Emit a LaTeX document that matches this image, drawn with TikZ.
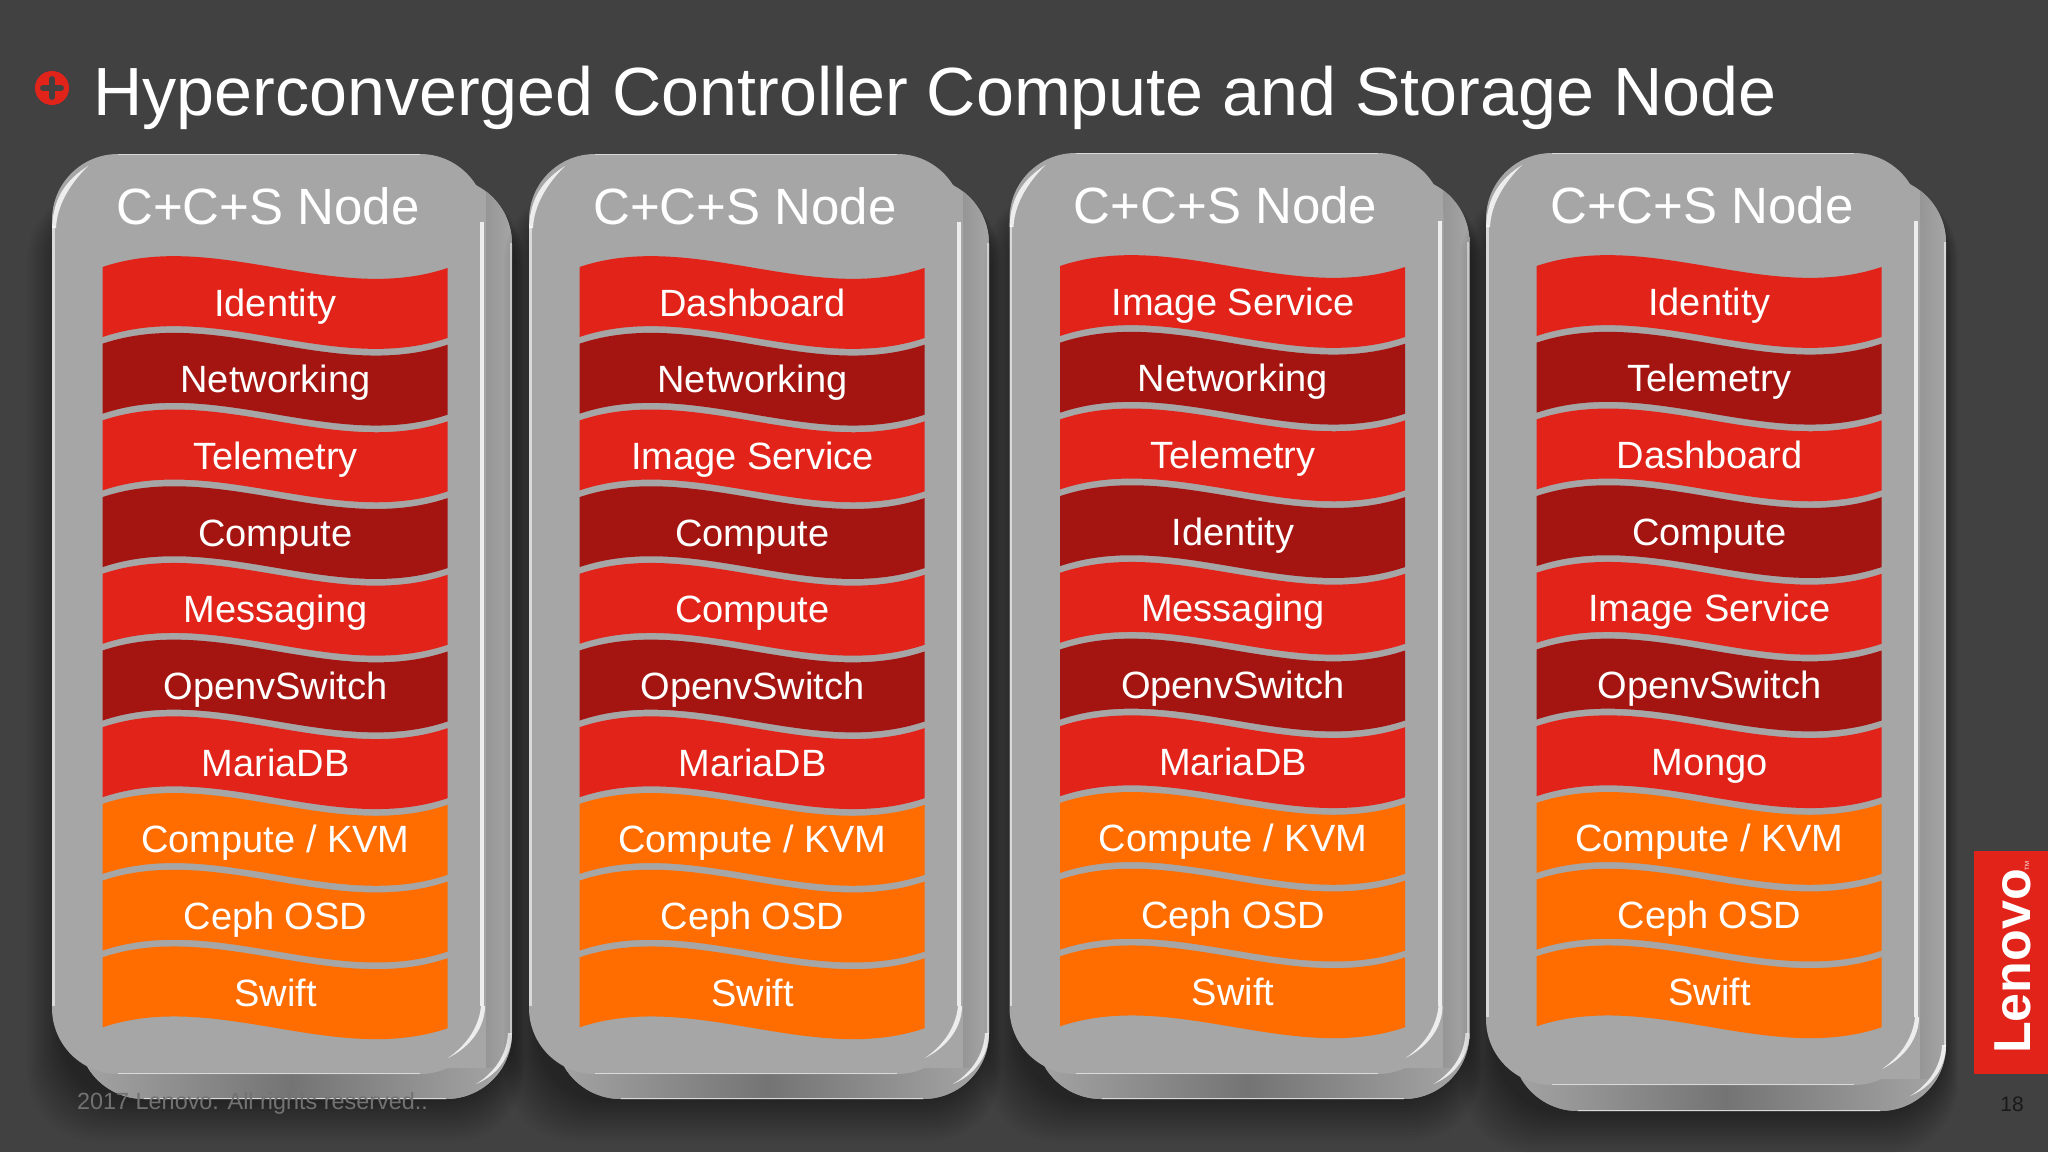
\documentclass[tikz,border=0pt]{standalone}
\usepackage{fontspec}
\setmainfont{Liberation Sans}
\usetikzlibrary{calc}
\definecolor{slidebg}{HTML}{414142}
\definecolor{cardgray}{HTML}{A6A6A6}
\definecolor{stripdark}{HTML}{747474}
\definecolor{stripmid}{HTML}{969696}
\definecolor{footergray}{HTML}{727272}
\definecolor{lenovored}{HTML}{E2231A}
\definecolor{darkred}{HTML}{A41511}
\definecolor{stackorange}{HTML}{FF6D00}
\tikzset{
  cardface/.style={fill=cardgray, rounded corners=66pt},
  cardback/.style={fill=cardgray, rounded corners=66pt},
  glint/.style={fill=white, opacity=.8},
  sideglint/.style={white!70!gray, line width=2.5pt},
  layertext/.style={white, anchor=base, inner sep=0pt, font=\fontsize{38}{38}\selectfont},
  cardtitle/.style={white, anchor=base, inner sep=0pt, font=\fontsize{51}{51}\selectfont},
  redband/.style={fill=lenovored},
  deepband/.style={fill=darkred},
  orangeband/.style={fill=stackorange},
}
% one stack: name, x shift, y shift, front bottom, back bottom, the ten layers
\newcommand{\nodecard}[6]{%
  \begin{scope}[xshift=#2pt, yshift=#3pt]
    % soft shadow, mostly left and below
    \foreach \k in {1,...,14}
      \fill[black, opacity=.026, rounded corners=70pt] (62-2.5*\k,190) rectangle (510+\k,#5+3*\k);
    \fill[cardback] (78,178) rectangle (512,#5);
    \begin{scope}
      \clip[rounded corners=66pt] (78,178) rectangle (512,#5);
      \shade[left color=stripmid, right color=cardgray] (486,170) rectangle (512,#4-6);
      \shade[left color=cardgray, right color=cardgray, middle color=stripdark] (70,#4-6) rectangle (512,#5);
    \end{scope}
    \draw[sideglint, line width=1.5pt] (144,#5-.5) -- (446,#5-.5);
    \draw[sideglint, line width=2pt] (510.5,243) -- (510.5,#5-64);
    \fill[glint] (512,#5-66) .. controls (512,#5-44) and (498,#5-24) .. (476,#5-15)
      .. controls (494,#5-26) and (507,#5-44) .. (508,#5-66) -- cycle;
    \fill[cardface] (52,154) rectangle (486,#4);
    \draw[sideglint, line width=1.5pt] (118,154.5) -- (420,154.5);
    \draw[sideglint, line width=1.5pt] (118,#4-.5) -- (420,#4-.5);
    \draw[sideglint] (53.5,226) -- (53.5,#4-68);
    \fill[glint] (52,228) .. controls (53,198) and (66,180) .. (88,166)
      .. controls (70,184) and (57,205) .. (56,228) -- cycle;
    \fill[glint] (480,222) rectangle (484,#4-68);
    \fill[glint] (485,#4-68) .. controls (485,#4-48) and (472,#4-28) .. (448,#4-16)
      .. controls (468,#4-30) and (479,#4-48) .. (481,#4-68) -- cycle;
    \node[cardtitle] (title#1) at (268,224) {C+C+S Node};
    \foreach \layername [count=\i from 0, evaluate=\i as \ty using 267+76.7*\i] in {#6} {
      \pgfmathtruncatemacro{\kind}{\i>6 ? 2 : int(mod(\i,2))}
      \ifnum\kind=2 \def\bandstyle{orangeband}\else
        \ifnum\kind=1 \def\bandstyle{deepband}\else \def\bandstyle{redband}\fi\fi
      \fill[\bandstyle] (102.5,\ty) .. controls +(113,-38) and +(-113,38) .. (447.5,\ty+1)
        -- (447.5,\ty+71) .. controls +(-113,38) and +(113,-38) .. (102.5,\ty+70) -- cycle;
      \node[layertext] (layer#1\i) at (275.5,\ty+49) {\layername};
    }
  \end{scope}
}
\begin{document}
\begin{tikzpicture}[x=1pt, y=-1pt]
\useasboundingbox (0,0) rectangle (2048,1152);
\fill[slidebg] (0,0) rectangle (2048,1152);

\node[circle, fill=lenovored, minimum size=34pt, inner sep=0pt] (bullet) at (52,88) {};
\draw[slidebg, line width=6pt, line cap=round] ($(bullet)+(-9,0)$) -- ($(bullet)+(9,0)$);
\draw[slidebg, line width=6pt, line cap=round] ($(bullet)+(0,-9)$) -- ($(bullet)+(0,9)$);
\node[white, anchor=base west, inner sep=0pt, font=\fontsize{68.2}{68.2}\selectfont] (heading) at (93,115)
  {Hyperconverged Controller Compute and Storage Node};

\nodecard{A}{0}{0}{1074}{1099}{Identity,Networking,Telemetry,Compute,Messaging,OpenvSwitch,MariaDB,Compute / KVM,Ceph OSD,Swift}
\nodecard{B}{477}{0}{1074}{1099}{Dashboard,Networking,Image Service,Compute,Compute,OpenvSwitch,MariaDB,Compute / KVM,Ceph OSD,Swift}
\nodecard{C}{957.5}{1}{1075}{1100}{Image Service,Networking,Telemetry,Identity,Messaging,OpenvSwitch,MariaDB,Compute / KVM,Ceph OSD,Swift}
\nodecard{D}{1434}{1}{1086}{1112}{Identity,Telemetry,Dashboard,Compute,Image Service,OpenvSwitch,Mongo,Compute / KVM,Ceph OSD,Swift}

\node[text=footergray, anchor=base west, inner sep=0pt, font=\fontsize{23.4}{23.4}\selectfont] (footer) at (77,1109)
  {2017 Lenovo. All rights reserved..};

\fill[lenovored] (1974,851) rectangle (2048,1074);
\node[white, rotate=90, anchor=base, inner sep=0pt, font=\fontsize{52}{52}\bfseries\selectfont] (logo) at (2030,961.5) {Lenovo};
\node[white, rotate=90, inner sep=0pt, font=\fontsize{6}{6}\selectfont] (tm) at (2027,866) {TM};
\node[black!90, font=\fontsize{21}{21}\selectfont, inner sep=0pt] (pageno) at (2012,1104) {18};
\end{tikzpicture}
\end{document}
